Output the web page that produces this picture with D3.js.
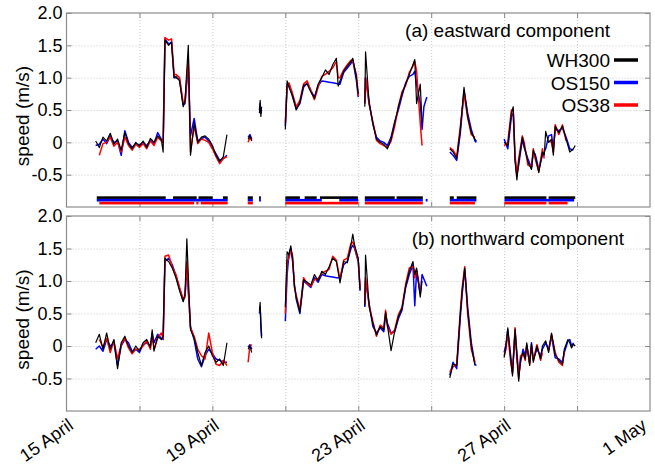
<!DOCTYPE html>
<html>
<head>
<meta charset="utf-8">
<script src="https://cdn.jsdelivr.net/npm/d3@7"></script>
<style>
  body { margin: 0; background: #fff; }
  svg { font-family: "Liberation Sans", Arial, sans-serif; }
</style>
</head>
<body>
<div id="chart"></div>
<script>
// time is day of April (31 = 1 May), null splits the record into pieces
const eastTime = [
  15.8,15.9,16.0,16.1,16.2,16.3,16.4,16.5,16.6,16.7,16.8,16.9,17.0,17.1,17.2,17.3,17.4,17.5,17.6,17.65,
  17.7,17.8,17.88,17.95,18.0,18.1,18.2,18.25,18.34,18.4,18.5,18.6,18.7,18.8,18.9,19.0,19.1,19.2,19.3,19.4,
  null, 19.98,20.03,20.08,
  null, 20.29,20.31,20.33,20.35,
  null, 21.0,21.05,21.1,21.2,21.3,21.4,21.5,21.6,21.7,21.8,21.9,22.0,22.1,22.2,22.3,22.4,22.45,22.5,22.6,22.7,22.8,22.85,22.95,23.0,
  null, 23.18,23.2,23.3,23.4,23.5,23.6,23.7,23.8,23.9,24.0,24.1,24.2,24.3,24.4,24.5,24.55,24.6,24.7,24.75,24.8,24.88,
  null, 25.51,25.6,25.7,25.8,25.9,26.0,26.1,26.2,26.24,
  null, 27.0,27.1,27.2,27.25,27.3,27.35,27.4,27.5,27.55,27.65,27.75,27.8,27.85,27.95,28.05,28.1,28.14,28.22,28.3,28.35,28.4,28.5,28.6,28.7,28.8,28.9,28.95
];
const eastWH300 = [
  0.02,-0.08,0.08,0.02,0.14,-0.03,0.05,-0.12,0.15,-0.02,-0.1,0.0,-0.06,0.02,-0.08,0.06,0.0,0.1,0.04,-0.15,
  1.58,1.5,1.55,1.0,1.02,0.95,0.55,0.65,1.5,-0.2,0.3,0.0,0.08,0.1,0.05,-0.05,-0.2,-0.3,-0.22,0.12,
  null, 0.05,0.1,0.02,
  null, 0.45,0.65,0.4,0.55,
  null, 0.2,0.95,0.85,0.72,0.5,0.62,0.88,0.9,0.78,0.68,0.9,1.0,1.12,1.05,1.2,1.3,0.87,0.95,1.1,1.18,1.25,1.3,1.0,0.75,
  null, 0.55,1.4,0.6,0.3,0.05,0.0,-0.03,-0.1,0.05,0.3,0.55,0.75,0.9,1.05,1.2,1.28,0.6,0.9,0.3,null,null,
  null, -0.1,-0.15,-0.25,0.2,0.85,0.4,0.15,0.05,0.02,
  null, 0.0,-0.05,0.45,0.55,-0.3,-0.58,-0.3,0.08,-0.05,-0.3,-0.42,-0.12,-0.2,-0.47,-0.15,-0.2,0.17,0.0,0.05,-0.2,0.25,0.15,0.25,0.05,-0.15,-0.1,-0.05
];
const eastOS150 = [
  -0.05,-0.03,0.05,-0.02,0.1,0.0,0.02,-0.2,0.18,0.0,-0.08,-0.02,-0.04,0.0,-0.05,0.03,-0.02,0.15,0.05,0.0,
  1.6,1.52,1.55,1.0,1.0,0.97,0.58,0.6,1.2,0.1,0.37,0.02,0.06,0.08,0.02,-0.08,-0.18,-0.28,-0.25,-0.2,
  null, 0.08,0.12,0.05,
  null, 0.5,0.6,0.45,0.5,
  null, 0.25,0.9,0.9,0.7,0.52,0.6,0.85,0.92,0.8,0.7,0.88,0.95,0.94,0.93,0.92,0.91,0.9,0.9,1.08,1.15,1.22,1.28,0.95,0.7,
  null, 0.6,1.0,0.62,0.28,0.08,0.02,0.0,-0.05,0.08,0.32,0.5,0.72,0.92,1.02,1.05,1.1,0.9,0.6,0.2,0.55,0.7,
  null, -0.15,-0.2,-0.28,0.15,0.8,0.45,0.2,0.02,0.0,
  null, 0.05,-0.1,0.4,0.45,-0.25,-0.5,-0.35,0.05,-0.08,-0.25,-0.4,-0.15,-0.18,-0.42,-0.2,-0.15,-0.1,0.1,0.12,-0.1,0.2,0.18,0.22,0.08,-0.1,-0.12,null
];
const eastOS38 = [
  null,-0.2,-0.02,0.0,0.08,-0.06,0.0,-0.15,0.08,-0.05,-0.12,-0.03,-0.08,-0.02,-0.1,0.02,-0.05,0.08,0.02,0.0,
  1.62,1.58,1.6,1.05,1.05,1.0,0.6,0.62,1.3,-0.15,0.25,-0.02,0.05,0.03,0.0,-0.1,-0.22,-0.33,-0.25,-0.22,
  null, 0.0,0.08,0.03,
  null, null,null,null,null,
  null, 0.3,0.85,0.92,0.75,0.55,0.65,0.9,0.95,0.8,0.66,0.85,1.02,1.05,1.1,1.15,1.25,1.0,1.0,1.12,1.2,1.27,1.25,1.05,0.72,
  null, 0.6,1.0,0.58,0.32,0.03,-0.02,-0.05,-0.08,0.02,0.25,0.55,0.78,0.88,1.08,1.18,1.25,1.1,0.3,-0.05,null,null,
  null, -0.08,-0.12,-0.22,0.25,0.75,0.38,0.12,0.08,null,
  null, -0.05,0.0,0.5,0.5,-0.2,-0.52,-0.25,0.1,0.0,-0.35,-0.38,-0.1,-0.25,-0.45,-0.1,-0.25,null,0.02,0.0,-0.15,0.27,0.12,0.27,0.02,null,null,null
];

const northTime = [
  15.8,15.9,16.0,16.1,16.2,16.3,16.4,16.5,16.6,16.7,16.8,16.9,17.0,17.1,17.2,17.3,17.35,17.4,17.5,17.6,
  17.65,17.7,17.8,17.9,18.0,18.1,18.2,18.25,18.3,18.4,18.5,18.6,18.7,18.8,18.9,19.0,19.1,19.2,19.3,19.4,
  null, 19.98,20.03,20.08,
  null, 20.29,20.31,20.33,20.35,
  null, 21.0,21.05,21.1,21.15,21.2,21.25,21.3,21.4,21.5,21.6,21.7,21.8,21.9,22.0,22.1,22.2,22.3,22.4,22.5,22.6,22.7,22.8,22.85,22.9,23.0,23.05,
  null, 23.18,23.2,23.3,23.4,23.5,23.6,23.7,23.75,23.8,23.9,24.0,24.1,24.2,24.3,24.4,24.5,24.55,24.6,24.7,24.75,24.88,
  null, 25.51,25.6,25.7,25.8,25.85,25.92,26.0,26.1,26.2,26.24,
  null, 27.0,27.05,27.1,27.18,27.23,27.3,27.35,27.4,27.45,27.52,27.58,27.62,27.7,27.75,27.8,27.9,28.0,28.05,28.14,28.22,28.3,28.4,28.5,28.6,28.65,28.75,28.8,28.85,28.9,28.95
];
const northWH300 = [
  0.05,0.18,-0.05,0.2,-0.05,0.1,-0.35,0.05,0.15,0.0,-0.1,0.0,-0.08,0.05,0.1,-0.02,0.25,-0.08,0.15,0.1,
  0.15,1.35,1.3,1.2,1.05,0.85,0.68,0.8,1.65,0.25,0.12,-0.1,-0.3,-0.1,0.0,-0.15,-0.25,-0.2,-0.3,0.05,
  null, -0.05,0.0,-0.1,
  null, 0.55,0.67,0.3,0.12,
  null, 0.6,1.45,1.4,1.54,1.35,0.92,0.75,0.52,1.02,0.98,0.94,1.1,1.0,1.15,1.1,1.22,1.35,1.3,0.97,1.3,1.28,1.55,1.72,1.55,1.35,0.87,
  null, 0.62,1.4,0.6,0.35,0.17,0.3,0.25,0.52,0.32,-0.07,0.23,0.45,0.58,0.92,1.15,1.3,1.1,1.2,0.75,1.0,null,
  null, -0.49,-0.28,-0.3,0.5,0.85,1.2,0.55,0.0,-0.3,null,
  null, -0.18,0.0,0.28,-0.2,-0.46,0.26,-0.15,-0.54,-0.2,-0.1,-0.2,0.05,-0.3,0.03,-0.25,0.0,-0.2,0.0,0.08,-0.1,0.2,-0.13,-0.22,-0.28,-0.05,0.1,0.05,-0.03,0.03,0.0
];
const northOS150 = [
  -0.05,0.0,-0.08,0.1,0.0,0.05,-0.3,0.0,0.1,0.05,-0.08,-0.05,-0.1,0.02,0.05,0.0,0.2,0.05,0.18,0.12,
  0.1,1.3,1.35,1.25,1.08,0.88,0.7,0.78,1.2,0.3,0.1,-0.2,-0.32,-0.15,-0.05,-0.12,-0.2,-0.22,-0.25,-0.25,
  null, -0.02,0.02,-0.05,
  null, 0.5,0.6,0.35,0.15,
  null, 0.38,1.1,1.42,1.5,1.3,0.95,0.72,0.5,1.0,0.95,0.9,1.05,0.98,1.1,1.08,1.07,1.06,1.05,1.05,1.25,1.3,1.5,1.55,1.5,1.3,0.85,
  null, 0.6,1.0,0.65,0.3,0.2,0.28,0.22,0.48,0.35,0.2,0.22,0.42,0.55,0.9,1.1,1.25,0.62,1.15,0.8,1.1,0.92,
  null, -0.45,-0.25,-0.35,0.45,0.8,1.18,0.6,0.05,-0.28,-0.3,
  null, -0.1,0.02,0.25,-0.15,-0.4,0.22,-0.1,-0.45,-0.25,-0.05,-0.15,0.0,-0.25,0.05,-0.2,-0.05,-0.15,-0.05,0.05,-0.05,0.15,-0.18,-0.2,-0.25,-0.1,0.08,0.1,0.0,0.05,null
];
const northOS38 = [
  null,0.1,-0.02,0.12,-0.1,0.08,-0.2,0.02,0.12,-0.03,-0.12,-0.05,-0.05,0.0,0.08,-0.05,0.15,-0.05,0.12,0.2,
  0.12,1.38,1.4,1.22,1.1,0.9,0.72,0.75,1.3,0.28,0.15,-0.05,-0.15,-0.2,0.2,-0.1,-0.28,-0.3,-0.22,-0.3,
  null, -0.25,0.0,0.02,
  null, null,null,null,null,
  null, 0.5,1.3,1.35,1.48,1.38,0.9,0.78,0.55,1.05,0.96,0.92,1.02,1.04,1.12,1.15,1.18,1.38,1.32,1.02,1.32,1.35,1.58,1.6,1.52,1.32,0.9,
  null, 0.65,1.05,0.62,0.38,0.15,0.32,0.28,0.55,0.3,0.18,0.25,0.48,0.6,0.95,1.2,1.22,1.05,1.18,0.85,null,null,
  null, -0.4,-0.32,-0.28,0.55,0.9,1.22,0.5,-0.05,-0.25,null,
  null, -0.15,-0.05,0.2,-0.25,-0.42,0.28,-0.2,-0.5,-0.15,-0.12,-0.22,0.02,-0.28,0.0,-0.22,0.02,-0.22,-0.1,null,-0.08,0.18,-0.1,-0.25,-0.3,-0.08,null,null,null,null,null
];

// periods with data for each instrument (start day, end day)
const availWH300 = [[15.83,17.72],[17.92,18.57],[18.62,19.01],[19.29,19.42],[19.97,20.11],[20.28,20.33],
  [21.0,21.4],[21.53,21.86],[21.95,22.99],[23.18,24.0],[24.05,24.77],[25.51,25.62],[25.7,26.24],[27.01,28.16],[28.22,28.95]];
const availOS150 = [[15.83,19.42],[19.97,20.11],[20.28,20.33],[21.0,22.0],[22.48,23.0],[23.18,24.77],[24.85,24.9],
  [25.51,26.24],[27.01,28.92]];
const availOS38 = [[15.9,18.5],[18.56,18.62],[18.68,19.42],[19.97,20.11],[21.0,23.0],[23.18,24.77],[25.51,26.2],
  [27.01,28.16],[28.22,28.74]];

const instruments = ["WH300", "OS150", "OS38"];
const colors = { WH300: "#000000", OS150: "#0000ff", OS38: "#ff0000" };
const barLevel = { WH300: -0.855, OS150: -0.895, OS38: -0.94 };

const yTicks = [2, 1.5, 1, 0.5, 0, -0.5];
const yTickLabels = ["2.0", "1.5", "1.0", "0.5", "0", "-0.5"];
const xGrid = [17, 19, 21, 23, 25, 27, 29];
const xTicks = [15, 19, 23, 27, 31];
const xTickLabels = ["15 April", "19 April", "23 April", "27 April", "1 May"];

const width = 655;
const height = 466;
const left = 66.5, right = 650;

const svg = d3.select("#chart")
  .append("svg")
  .attr("width", width)
  .attr("height", height);

const x = d3.scaleLinear().domain([15, 31]).range([left, right]);

function drawPanel(top, bottom, time, series, avail, title, titleY) {
  const y = d3.scaleLinear().domain([-1, 2]).range([bottom, top]);
  const g = svg.append("g");

  // dotted grid
  g.append("g")
    .attr("transform", `translate(0,${bottom})`)
    .call(d3.axisBottom(x).tickValues(xGrid).tickSize(-(bottom - top)).tickFormat(""))
    .call(a => a.select(".domain").remove())
    .call(a => a.selectAll("line").attr("stroke", "#c8c8c8").attr("stroke-dasharray", "1,2"));
  g.append("g")
    .attr("transform", `translate(${left},0)`)
    .call(d3.axisLeft(y).tickValues([1.5, 1, 0.5, 0, -0.5]).tickSize(-(right - left)).tickFormat(""))
    .call(a => a.select(".domain").remove())
    .call(a => a.selectAll("line").attr("stroke", "#c8c8c8").attr("stroke-dasharray", "1,2"));

  // inward ticks on all four sides
  const tickStyle = a => a.call(s => s.select(".domain").remove())
    .call(s => s.selectAll("line").attr("stroke", "#888"));
  g.append("g").attr("transform", `translate(0,${bottom})`)
    .call(d3.axisBottom(x).tickValues(xGrid).tickSize(-5).tickFormat("")).call(tickStyle);
  g.append("g").attr("transform", `translate(0,${top})`)
    .call(d3.axisTop(x).tickValues(xGrid).tickSize(-5).tickFormat("")).call(tickStyle);
  g.append("g").attr("transform", `translate(${right},0)`)
    .call(d3.axisRight(y).tickValues(yTicks).tickSize(-5).tickFormat("")).call(tickStyle);

  // y axis labels
  g.append("g")
    .attr("transform", `translate(${left},0)`)
    .call(d3.axisLeft(y).tickValues(yTicks).tickSize(-5).tickPadding(4)
      .tickFormat((d, i) => yTickLabels[i]))
    .call(a => a.select(".domain").remove())
    .call(a => a.selectAll("line").attr("stroke", "#888"))
    .call(a => a.selectAll("text").attr("font-size", 18).attr("fill", "#000")
      .attr("font-family", "Liberation Sans, Arial, sans-serif"));

  g.append("text")
    .attr("transform", `translate(29,${(top + bottom) / 2 + 6}) rotate(-90)`)
    .attr("text-anchor", "middle")
    .attr("font-size", 19)
    .text("speed (m/s)");

  // data
  const line = d3.line()
    .defined(d => d.t != null && d.v != null)
    .x(d => x(d.t))
    .y(d => y(d.v));

  ["OS150", "OS38", "WH300"].forEach(name => {
    const pts = time.map((t, i) => ({ t: t, v: series[name][i] }));
    g.append("path")
      .datum(pts)
      .attr("fill", "none")
      .attr("stroke", colors[name])
      .attr("stroke-width", name === "WH300" ? 1.2 : 1.5)
      .attr("stroke-linejoin", "round")
      .attr("d", line);
  });

  // availability bars
  if (avail) {
    instruments.forEach(name => {
      g.selectAll(null)
        .data(avail[name])
        .join("rect")
        .attr("x", d => x(d[0]))
        .attr("width", d => Math.max(1.5, x(d[1]) - x(d[0])))
        .attr("y", y(barLevel[name]) - 1.3)
        .attr("height", 2.6)
        .attr("fill", colors[name]);
    });
  }

  // frame
  g.append("rect")
    .attr("x", left).attr("y", top)
    .attr("width", right - left).attr("height", bottom - top)
    .attr("fill", "none").attr("stroke", "#8c8c8c").attr("stroke-width", 1.2);

  g.append("text")
    .attr("x", title[1]).attr("y", titleY)
    .attr("text-anchor", "end")
    .attr("font-size", 19)
    .text(title[0]);

  return y;
}

drawPanel(13, 207, eastTime,
  { WH300: eastWH300, OS150: eastOS150, OS38: eastOS38 },
  { WH300: availWH300, OS150: availOS150, OS38: availOS38 },
  ["(a) eastward component", 610], 37);

drawPanel(216, 411, northTime,
  { WH300: northWH300, OS150: northOS150, OS38: northOS38 },
  null,
  ["(b) northward component", 624], 245);

// legend
const legend = svg.append("g");
instruments.forEach((name, i) => {
  const ly = 60 + i * 22.5;
  legend.append("line")
    .attr("x1", 614).attr("x2", 638)
    .attr("y1", ly).attr("y2", ly)
    .attr("stroke", colors[name]).attr("stroke-width", 3.5);
  legend.append("text")
    .attr("x", 610).attr("y", ly + 7)
    .attr("text-anchor", "end")
    .attr("font-size", 19)
    .text(name);
});

// rotated date labels (last one pulled in so it stays inside the page)
svg.append("g")
  .selectAll("text")
  .data(xTicks)
  .join("text")
  .attr("transform", d => `translate(${Math.min(x(d) + 8, 648)},428) rotate(-35)`)
  .attr("text-anchor", "end")
  .attr("font-size", 18)
  .text((d, i) => xTickLabels[i]);
</script>
</body>
</html>
